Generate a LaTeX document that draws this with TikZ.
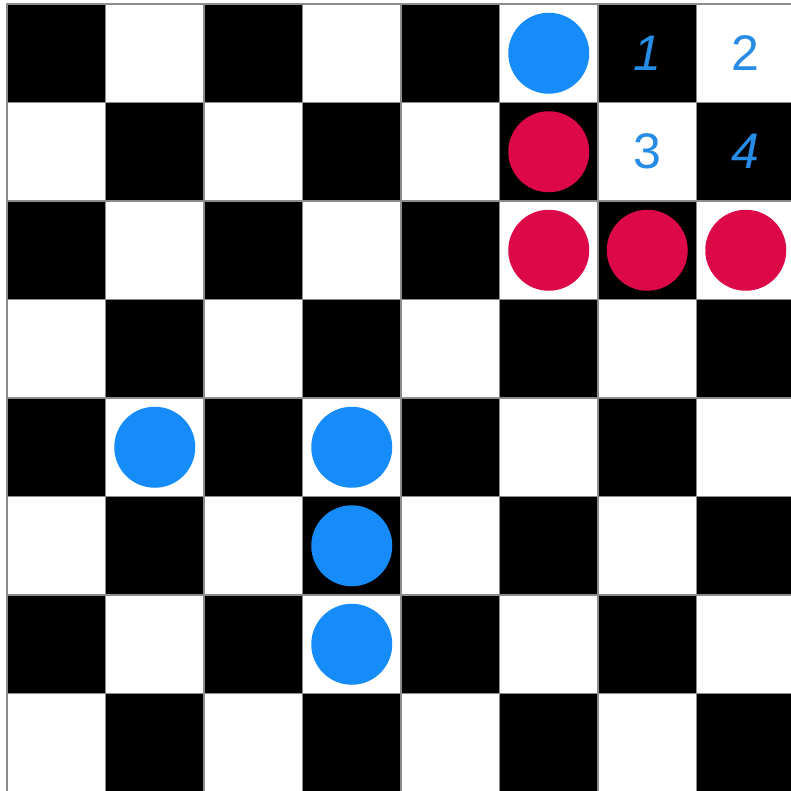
\documentclass[tikz,border=0pt]{standalone}
\usepackage{fontspec}
\setmainfont{Liberation Sans}
\definecolor{pieceblue}{RGB}{22,140,250}
\definecolor{piecered}{RGB}{220,8,72}
\definecolor{digitblue}{RGB}{38,140,230}
\tikzset{
  cellblack/.style={fill=black,draw=black!45,line width=1.2pt},
  cellwhite/.style={fill=white,draw=black!45,line width=1.2pt},
  bluepiece/.style={circle,fill=pieceblue,minimum size=81pt,inner sep=0pt},
  redpiece/.style={circle,fill=piecered,minimum size=81pt,inner sep=0pt},
  digit/.style={text=digitblue,font=\fontsize{50}{50}\selectfont,inner sep=0pt},
  digitit/.style={digit,font=\fontsize{50}{50}\selectfont\itshape},
}
\begin{document}
\begin{tikzpicture}[x=1pt,y=-1pt]
\useasboundingbox (0,0) rectangle (791,790);
\fill[white] (0,0) rectangle (791,790);
\def\cs{98.5}
\def\ox{7}
\def\oy{4}
\foreach \c in {0,...,7}{
  \foreach \r in {0,...,7}{
    \pgfmathtruncatemacro{\parity}{mod(\c+\r,2)}
    \ifnum\parity=0
      \draw[cellblack] ({\ox+\c*\cs},{\oy+\r*\cs}) rectangle ++(\cs,\cs);
    \else
      \draw[cellwhite] ({\ox+\c*\cs},{\oy+\r*\cs}) rectangle ++(\cs,\cs);
    \fi
  }
}
% pieces
\node[bluepiece] (b1) at ({\ox+5.5*\cs},{\oy+0.5*\cs}) {};
\node[redpiece]  (r1) at ({\ox+5.5*\cs},{\oy+1.5*\cs}) {};
\node[redpiece]  (r2) at ({\ox+5.5*\cs},{\oy+2.5*\cs}) {};
\node[redpiece]  (r3) at ({\ox+6.5*\cs},{\oy+2.5*\cs}) {};
\node[redpiece]  (r4) at ({\ox+7.5*\cs},{\oy+2.5*\cs}) {};
\node[bluepiece] (b2) at ({\ox+1.5*\cs},{\oy+4.5*\cs}) {};
\node[bluepiece] (b3) at ({\ox+3.5*\cs},{\oy+4.5*\cs}) {};
\node[bluepiece] (b4) at ({\ox+3.5*\cs},{\oy+5.5*\cs}) {};
\node[bluepiece] (b5) at ({\ox+3.5*\cs},{\oy+6.5*\cs}) {};
% digits
\node[digitit] (d1) at ({\ox+6.5*\cs},{\oy+0.5*\cs}) {1};
\node[digit]   (d2) at ({\ox+7.5*\cs},{\oy+0.5*\cs}) {2};
\node[digit]   (d3) at ({\ox+6.5*\cs},{\oy+1.5*\cs}) {3};
\node[digitit] (d4) at ({\ox+7.5*\cs},{\oy+1.5*\cs}) {4};
\end{tikzpicture}
\end{document}
